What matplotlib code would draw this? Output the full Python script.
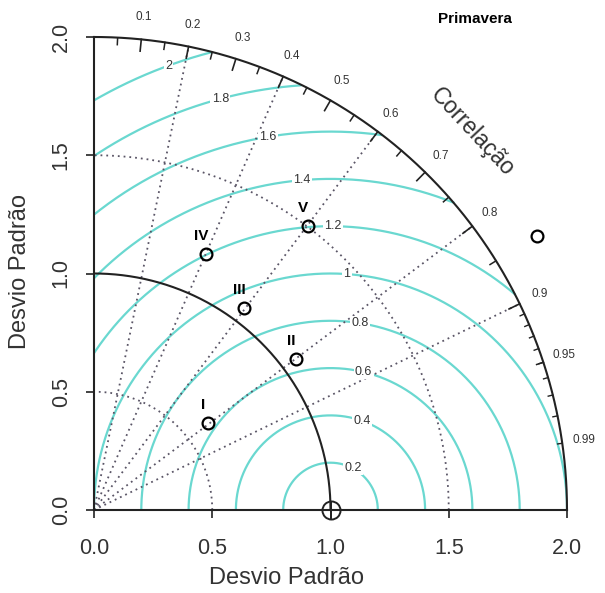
import numpy as np
import matplotlib.pyplot as plt

plt.rcParams['font.family'] = ['Liberation Sans', 'DejaVu Sans']

# Taylor diagram data (standard deviation, correlation)
point_labels = ['I', 'II', 'III', 'IV', 'V', '']
point_sd = [0.606, 1.066, 1.064, 1.181, 1.504, 2.203]
point_cor = [0.795, 0.801, 0.596, 0.401, 0.602, 0.850]
ref_sd = 1.0
max_sd = 2.0

cor_labels = [0.1, 0.2, 0.3, 0.4, 0.5, 0.6, 0.7, 0.8, 0.9, 0.95, 0.99]
cor_lines = [0.2, 0.4, 0.6, 0.8, 0.9]
rms_levels = [0.2, 0.4, 0.6, 0.8, 1.0, 1.2, 1.4, 1.6, 1.8, 2.0]
rms_label_text = ['0.2', '0.4', '0.6', '0.8', '1', '1.2', '1.4', '1.6', '1.8', '2']
rms_label_angle = [62, 70.5, 76.5, 81, 86, 89.5, 95, 99.5, 105, 110]

cyan = '#6ad8d0'
dotc = '#5a5566'
dark = '#222222'

fig = plt.figure(figsize=(6.05, 5.93), dpi=100)
ax = fig.add_axes([94 / 605, 83 / 593, 473 / 605, 473 / 593])
ax.set_xlim(0, max_sd)
ax.set_ylim(0, max_sd)

# centered RMS arcs around the reference point
t = np.linspace(0, np.pi, 600)
for g, lab, ang in zip(rms_levels, rms_label_text, rms_label_angle):
    xc = ref_sd + g * np.cos(t)
    yc = g * np.sin(t)
    ok = (xc >= 0) & (xc ** 2 + yc ** 2 <= max_sd ** 2 + 1e-9)
    xc = np.where(ok, xc, np.nan)
    yc = np.where(ok, yc, np.nan)
    ax.plot(xc, yc, color=cyan, lw=1.6, zorder=1)
    a = np.deg2rad(ang)
    ax.text(ref_sd + g * np.cos(a), g * np.sin(a), lab, fontsize=9, color='#333333',
            ha='center', va='center', zorder=3,
            bbox=dict(boxstyle='square,pad=0.1', fc='white', ec='none'))

# correlation rays
for c in cor_lines:
    th = np.arccos(c)
    ax.plot([0, max_sd * np.cos(th)], [0, max_sd * np.sin(th)], color=dotc,
            ls=(0, (1, 2.2)), lw=1.3, zorder=2)

# sd arcs
th = np.linspace(0, np.pi / 2, 300)
for r in [0.5, 1.5]:
    ax.plot(r * np.cos(th), r * np.sin(th), color=dotc, ls=(0, (1, 2.2)), lw=1.3, zorder=2)
ax.plot(ref_sd * np.cos(th), ref_sd * np.sin(th), color=dark, lw=1.5, zorder=2)
ax.plot(max_sd * np.cos(th), max_sd * np.sin(th), color=dark, lw=1.5, zorder=2,
        clip_on=False)

# ticks on the outer arc
def arc_ticks(values, frac, lw):
    for c in values:
        a = np.arccos(c)
        ax.plot([max_sd * np.cos(a), frac * max_sd * np.cos(a)],
                [max_sd * np.sin(a), frac * max_sd * np.sin(a)], color=dark, lw=lw)


arc_ticks(np.arange(0.1, 0.95, 0.1), 0.975, 1.2)
arc_ticks(np.arange(0.05, 1.0, 0.1), 0.985, 1.1)
arc_ticks(np.arange(0.91, 1.0, 0.01), 0.99, 1.0)

for c in cor_labels:
    a = np.arccos(c)
    ax.text(1.047 * max_sd * np.cos(a), 1.047 * max_sd * np.sin(a), str(c), fontsize=8.5,
            color='#333333', ha='center', va='center')

ax.text(1.60, 1.60, 'Correlação', fontsize=16.5, color='#333333', rotation=-47,
        ha='center', va='center')

# reference point
ax.plot([ref_sd], [0], marker='o', ms=13, mfc='none', mec=dark, mew=1.4,
        clip_on=False, zorder=5)
ax.plot([ref_sd], [0], marker='+', ms=13, mec=dark, mew=1.4, clip_on=False, zorder=5)

# model points
for lab, s, c in zip(point_labels, point_sd, point_cor):
    x = s * c
    y = s * np.sin(np.arccos(c))
    ax.plot([x], [y], marker='o', ms=8.5, mfc='none', mec='black', mew=1.6, zorder=6,
            clip_on=False)
    ax.text(x - 0.02, y + 0.045, lab, fontsize=11, fontweight='bold', ha='center',
            va='bottom', zorder=6)

fig.text(475 / 605, 1 - 19 / 593, 'Primavera', fontsize=11, fontweight='bold',
         ha='center', va='center')

for s in ['top', 'right']:
    ax.spines[s].set_visible(False)
for s in ['left', 'bottom']:
    ax.spines[s].set_linewidth(1.5)
    ax.spines[s].set_color(dark)
ax.set_xticks([0, 0.5, 1.0, 1.5, 2.0])
ax.set_yticks([0, 0.5, 1.0, 1.5, 2.0])
ax.set_xticklabels(['0.0', '0.5', '1.0', '1.5', '2.0'])
ax.set_yticklabels(['0.0', '0.5', '1.0', '1.5', '2.0'], rotation=90, va='center')
ax.tick_params(labelsize=15.5, length=6, width=1.2, color=dark, labelcolor='#333333')
ax.tick_params(axis='x', pad=14)
ax.tick_params(axis='y', pad=10)
ax.set_xlabel('Desvio Padrão', fontsize=17, color='#333333', va='center')
ax.set_ylabel('Desvio Padrão', fontsize=17, color='#333333', va='center')
ax.xaxis.set_label_coords(0.406, -0.144)
ax.yaxis.set_label_coords(-0.156, 0.505)

fig.savefig('out.png', dpi=100)
